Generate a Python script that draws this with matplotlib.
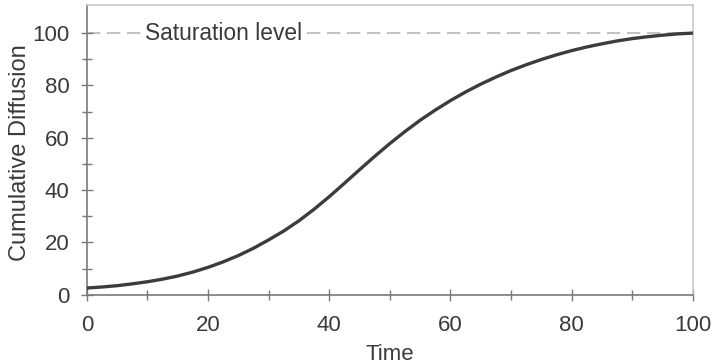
import numpy as np
import matplotlib
matplotlib.use("Agg")
import matplotlib.pyplot as plt

plt.rcParams['font.family'] = ['Liberation Sans', 'DejaVu Sans']

# valori (passo 2.5)
time = [0, 2.5, 5, 7.5, 10, 12.5, 15, 17.5, 20, 22.5, 25, 27.5, 30, 32.5, 35, 37.5, 40,
        42.5, 45, 47.5, 50, 52.5, 55, 57.5, 60, 62.5, 65, 67.5, 70, 72.5, 75, 77.5, 80,
        82.5, 85, 87.5, 90, 92.5, 95, 97.5, 100]
diffusion = [2.6, 3.0, 3.5, 4.2, 5.0, 6.0, 7.2, 8.7, 10.5, 12.6, 15.0, 17.8, 21.0, 24.4, 28.3,
             32.7, 37.5, 42.6, 47.8, 52.9, 57.8, 62.4, 66.7, 70.6, 74.2, 77.5, 80.5, 83.2, 85.7,
             87.9, 89.9, 91.7, 93.3, 94.7, 95.9, 97.0, 97.9, 98.6, 99.2, 99.7, 100.0]
saturation = 100
x_ticks = [0, 20, 40, 60, 80, 100]
y_ticks = [0, 20, 40, 60, 80, 100]

txt_col = "#3a3a3a"
ax_col = "#7a7a7a"

fig = plt.figure(figsize=(7.12, 3.64), dpi=100)
ax = fig.add_axes([0.122, 0.19, 0.851, 0.796])

ax.axhline(saturation, color="#b8b8b8", lw=1.2, ls=(0, (8, 4)), zorder=1)
ax.text(9.6, saturation, "Saturation level", fontsize=16.4, color=txt_col,
        va="center", ha="left",
        bbox=dict(facecolor="white", edgecolor="none", pad=3), zorder=2)

ax.plot(time, diffusion, color="#3c3c3c", lw=2.4, zorder=3, solid_capstyle="round")

ax.set_xlim(0, 100)
ax.set_ylim(0, 110.7)
ax.set_xticks(x_ticks)
ax.set_yticks(y_ticks)
ax.set_xticks(np.arange(10, 100, 20), minor=True)
ax.set_yticks(np.arange(10, 110, 20), minor=True)

ax.tick_params(axis="x", which="major", direction="inout", length=9, width=1, color=ax_col,
               labelsize=16, labelcolor=txt_col, pad=10)
ax.tick_params(axis="x", which="minor", direction="inout", length=7, width=1, color=ax_col)
ax.tick_params(axis="y", which="major", direction="inout", length=9, width=1, color=ax_col,
               labelsize=16, labelcolor=txt_col, pad=8)
ax.tick_params(axis="y", which="minor", direction="inout", length=7, width=1, color=ax_col)

for side in ["left", "bottom"]:
    ax.spines[side].set_color(ax_col)
    ax.spines[side].set_linewidth(1.2)
for side in ["top", "right"]:
    ax.spines[side].set_color("#c8c8c8")
    ax.spines[side].set_linewidth(1.2)

ax.set_xlabel("Time", fontsize=16, color=txt_col)
ax.set_ylabel("Cumulative Diffusion", fontsize=17, color=txt_col)
ax.xaxis.set_label_coords(0.5, -0.17)
ax.yaxis.set_label_coords(-0.092, 0.49)

fig.savefig("out.png", dpi=100)
